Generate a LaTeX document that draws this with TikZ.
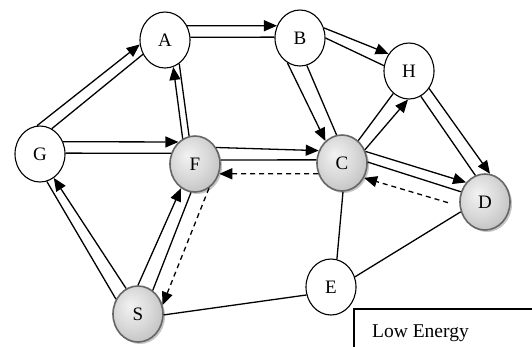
\documentclass[tikz,border=0pt]{standalone}
\usepackage{fontspec}
\setmainfont{Liberation Serif}
\usetikzlibrary{arrows.meta,shapes.geometric,shadows}
\pgfdeclareradialshading{nodeshade}{\pgfpoint{-8bp}{8bp}}{color(0bp)=(gray!10);color(18bp)=(gray!30);color(40bp)=(gray!62);color(50bp)=(gray!70)}
\newcommand\lnk[5][]{\draw[edge,#1] (#2.#3) -- (#4.#5);}
\begin{document}
\begin{tikzpicture}[x=1pt,y=-1pt,
  base/.style={ellipse, minimum width=50pt, minimum height=56pt, inner sep=0pt, font=\fontsize{19}{21}\selectfont},
  wnode/.style={base, draw=black, line width=1.1pt, fill=white},
  gnode/.style={base, draw=gray!80!black, line width=1.6pt, shading=nodeshade, drop shadow={shadow xshift=2pt, shadow yshift=-2pt, fill=gray!45, opacity=1}},
  edge/.style={line width=1.3pt, black},
  arr/.style={-{Triangle[length=13pt,width=11pt]}},
  darr/.style={arr, dash pattern=on 5pt off 4pt},
]
\useasboundingbox (0,0) rectangle (532,346);
\clip (0,0) rectangle (532,346);
\fill[white] (0,0) rectangle (532,346);

\node[wnode] (A) at (165,40) {A};
\node[wnode] (B) at (300,38) {B};
\node[wnode] (H) at (409,71) {H};
\node[wnode] (G) at (40,154) {G};
\node[gnode] (F) at (195,164) {F};
\node[gnode] (C) at (342,163) {C};
\node[gnode] (D) at (485,202) {D};
\node[wnode] (E) at (331,287) {E};
\node[gnode] (S) at (138,314) {S};

% A-B
\lnk[arr]{A}{33}{B}{152}
\lnk{A}{6}{B}{178}
% G-A
\lnk[arr]{G}{96}{A}{190}
\lnk{G}{65}{A}{213}
% F-A
\lnk[arr]{F}{116}{A}{287}
\lnk{F}{102}{A}{301}
% G-F
\lnk[arr]{G}{28}{F}{127}
\lnk{G}{2}{F}{156}
% F-C
\lnk[arr]{F}{38}{C}{152}
\lnk{F}{9}{C}{173}
\lnk[darr]{C}{204}{F}{338}
% B-C
\lnk[arr]{B}{243}{C}{127}
\lnk{B}{284}{C}{101}
% B-H
\lnk[arr]{B}{23}{H}{140}
\lnk{B}{0}{H}{168}
% C-H
\lnk{C}{54}{H}{235}
\lnk[arr]{C}{30}{H}{268}
% H-D
\lnk[arr]{H}{319}{D}{80}
\lnk{H}{295}{D}{110}
% C-D
\lnk[arr]{C}{26}{D}{134}
\lnk{C}{2}{D}{157}
\lnk[darr, shorten <=12pt]{D}{189}{C}{326}
% C-E, D-E, S-E
\lnk{C}{272}{E}{78}
\lnk{D}{202}{E}{23}
\lnk{S}{358}{E}{198}
% S-G
\lnk[arr]{S}{115}{G}{300}
\lnk{G}{284}{S}{146}
% S-F
\lnk[arr]{S}{90}{F}{240}
\lnk{F}{262}{S}{58}
\lnk[darr]{F}{300}{S}{20}

% legend box
\draw[line width=1.3pt] (354,309) rectangle (600,420);
\node[anchor=base west, font=\fontsize{19.5}{21}\selectfont, inner sep=0pt] (lowe) at (372,337) {Low Energy};
\end{tikzpicture}
\end{document}
